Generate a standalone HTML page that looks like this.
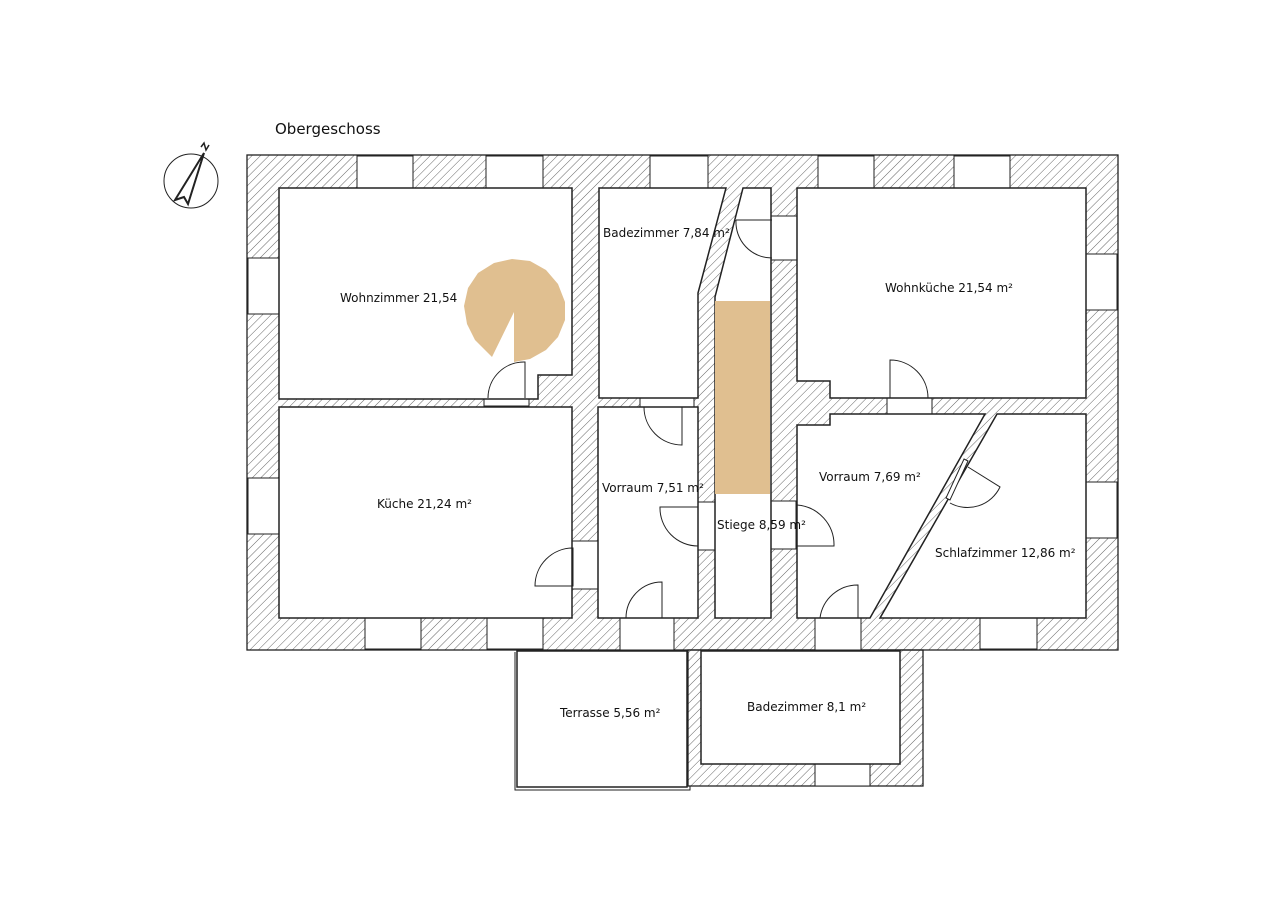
<!DOCTYPE html>
<html><head><meta charset="utf-8"><style>
html,body{margin:0;padding:0;background:#fff;}
svg{display:block;}
text{font-family:"DejaVu Sans","Liberation Sans",sans-serif;font-size:12px;fill:#111;}
</style></head><body>
<svg width="1280" height="905" viewBox="0 0 1280 905" xmlns="http://www.w3.org/2000/svg">
<defs>
<pattern id="h" width="6" height="6" patternUnits="userSpaceOnUse" patternTransform="rotate(45)">
<line x1="0" y1="0" x2="0" y2="6" stroke="#666" stroke-width="1"/>
</pattern>
</defs>
<rect width="1280" height="905" fill="#fff"/>
<text x="275" y="134" style="font-size:15px">Obergeschoss</text>

<!-- compass -->
<g stroke="#222" fill="none" stroke-width="1">
<circle cx="191" cy="181" r="27"/>
<path d="M204 153 L175 200 L184 197 L188 204 Z" stroke-width="2"/>
<path d="M201 147 l3 -4 l2 7 l3 -5" stroke-width="1.5"/>
</g>

<!-- walls hatched -->
<g stroke="#222" stroke-width="1.3">
<rect x="247" y="155" width="871" height="495" fill="url(#h)"/>
<rect x="688" y="650" width="235" height="136" fill="url(#h)"/>
</g>

<!-- windows / openings (white) -->
<g fill="#fff" stroke="#222" stroke-width="1">
<rect x="357" y="156" width="56" height="32"/>
<rect x="486" y="156" width="57" height="32"/>
<rect x="650" y="156" width="58" height="32"/>
<rect x="818" y="156" width="56" height="32"/>
<rect x="954" y="156" width="56" height="32"/>
<rect x="248" y="258" width="31" height="56"/>
<rect x="248" y="478" width="31" height="56"/>
<rect x="1086" y="254" width="31" height="56"/>
<rect x="1086" y="482" width="31" height="56"/>
<rect x="365" y="618" width="56" height="31"/>
<rect x="487" y="618" width="56" height="31"/>
<rect x="980" y="618" width="57" height="31"/>
<rect x="815" y="764" width="55" height="22"/>
<!-- door frames -->
<rect x="620" y="618" width="54" height="32"/>
<rect x="815" y="618" width="46" height="32"/>
<rect x="572" y="541" width="26" height="48"/>
<rect x="484" y="398" width="45" height="8"/>
<rect x="640" y="398" width="54" height="9"/>
<rect x="887" y="398" width="45" height="16"/>
<rect x="771" y="216" width="26" height="44"/>
<rect x="698" y="502" width="17" height="48"/>
<rect x="771" y="501" width="25" height="48"/>
</g>

<!-- rooms -->
<g fill="#fff" stroke="#222" stroke-width="1.5">
<polygon points="279,188 572,188 572,375 538,375 538,399 279,399"/>
<rect x="279" y="407" width="293" height="211"/>
<polygon points="599,188 726,188 698,293 698,398 599,398"/>
<polygon points="743,188 771,188 771,618 715,618 715,297"/>
<polygon points="797,188 1086,188 1086,398 830,398 830,381 797,381"/>
<rect x="598" y="407" width="100" height="211"/>
<polygon points="797,425 830,425 830,414 985,414 870,618 797,618"/>
<polygon points="997,414 1086,414 1086,618 880,618"/>
<rect x="701" y="651" width="199" height="113"/>
<rect x="517" y="651" width="170" height="136"/>
</g>
<path d="M515 652 V790 H690 V786" fill="none" stroke="#222" stroke-width="1"/>

<!-- stairs -->
<rect x="715" y="301" width="55" height="193" fill="#e0bf90"/>
<path d="M514 312 L514 362 L530 359 L546 350 L558 337 L565 320 L565 302 L558 284 L546 270 L530 261 L512 259 L494 263 L478 273 L468 288 L464 306 L467 324 L475 340 L492 357 Z" fill="#e0bf90"/>

<!-- door swings -->
<g fill="none" stroke="#222" stroke-width="1">
<path d="M488 398 A36 36 0 0 1 525 362 V398"/>
<path d="M535 586 A38 38 0 0 1 573 548 V586 Z"/>
<path d="M626 618 A36 36 0 0 1 662 582 V618"/>
<path d="M660 507 A38 38 0 0 0 698 546 V507 Z"/>
<path d="M644 407 A38 38 0 0 0 682 445 V407"/>
<path d="M736 220 A36 36 0 0 0 772 258"/>
<line x1="736" y1="220" x2="772" y2="220"/>
<path d="M797 505 A40 40 0 0 1 834 546 H797"/>
<path d="M890 398 V360 A38 38 0 0 1 928 398"/>
<path d="M820 618 A38 38 0 0 1 858 585 V618"/>
<path d="M968 467 L1000 487 A36 36 0 0 1 950 503"/>
</g>
<g fill="#fff" stroke="#222" stroke-width="1">
<polygon points="964,459 968,461 950,500 946,498"/>
</g>

<!-- labels -->
<text x="340" y="302">Wohnzimmer 21,54</text>
<text x="377" y="508">Küche 21,24 m²</text>
<text x="603" y="237">Badezimmer 7,84 m²</text>
<text x="602" y="492">Vorraum 7,51 m²</text>
<text x="717" y="529">Stiege 8,59 m²</text>
<text x="885" y="292">Wohnküche 21,54 m²</text>
<text x="819" y="481">Vorraum 7,69 m²</text>
<text x="935" y="557">Schlafzimmer 12,86 m²</text>
<text x="560" y="717">Terrasse 5,56 m²</text>
<text x="747" y="711">Badezimmer 8,1 m²</text>
</svg>
</body></html>
